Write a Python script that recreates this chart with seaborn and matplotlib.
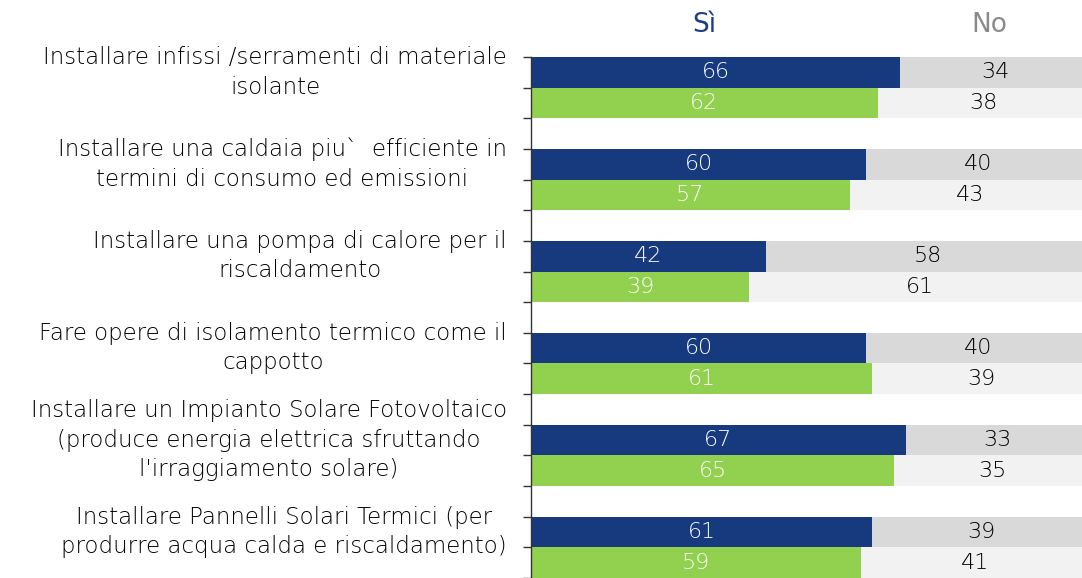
import numpy as np
import pandas as pd
import seaborn as sns
import matplotlib.pyplot as plt

# Data
categories = [
    "Installare infissi /serramenti di materiale\nisolante",
    "Installare una caldaia piu`  efficiente in\ntermini di consumo ed emissioni",
    "Installare una pompa di calore per il\nriscaldamento",
    "Fare opere di isolamento termico come il\ncappotto",
    "Installare un Impianto Solare Fotovoltaico\n(produce energia elettrica sfruttando\nl'irraggiamento solare)",
    "Installare Pannelli Solari Termici (per\nprodurre acqua calda e riscaldamento)",
]
series = ["Serie A", "Serie B"]
si_a = [66, 60, 42, 60, 67, 61]
no_a = [34, 40, 58, 40, 33, 39]
si_b = [62, 57, 39, 61, 65, 59]
no_b = [38, 43, 61, 39, 35, 41]

BLUE = "#173A7F"
GREEN = "#92D050"
GRAY_DARK = "#D9D9D9"
GRAY_LIGHT = "#F2F2F2"

rows = []
for i, cat in enumerate(categories):
    rows.append({"cat": cat, "serie": series[0], "si": si_a[i], "no": no_a[i]})
    rows.append({"cat": cat, "serie": series[1], "si": si_b[i], "no": no_b[i]})
df = pd.DataFrame(rows)
df["tot"] = df["si"] + df["no"]

sns.set_style("white")
plt.rcParams["font.family"] = ["DejaVu Sans"]

fig = plt.figure(figsize=(10.82, 5.78), dpi=100)
ax = fig.add_axes([531 / 1082, 0, 559 / 1082, 521 / 578])

sns.barplot(data=df, y="cat", x="tot", hue="serie", hue_order=series,
            palette=[GRAY_DARK, GRAY_LIGHT], orient="h", width=2 / 3,
            linewidth=0, saturation=1, legend=False, ax=ax, errorbar=None)
sns.barplot(data=df, y="cat", x="si", hue="serie", hue_order=series,
            palette=[BLUE, GREEN], orient="h", width=2 / 3,
            linewidth=0, saturation=1, legend=False, ax=ax, errorbar=None)

ax.set_xlim(0, 100)
ax.set_ylim(len(categories) - 2 / 3, -1 / 3)
ax.set_xlabel("")
ax.set_ylabel("")
ax.set_xticks([])
ax.set_yticks(np.arange(-1 / 3, len(categories) - 0.5, 1 / 3))
ax.set_yticklabels([])
ax.tick_params(axis="y", direction="out", length=6, width=1, color="#333333", left=True)
for s in ["top", "right", "bottom"]:
    ax.spines[s].set_visible(False)
ax.spines["left"].set_color("#333333")
ax.spines["left"].set_linewidth(1)

FS = 16
# value labels
for i in range(len(categories)):
    ya, yb = i - 1 / 6, i + 1 / 6
    ax.text(si_a[i] / 2, ya, str(si_a[i]), color="white", ha="center", va="center", fontsize=FS, fontweight="light")
    ax.text(si_a[i] + no_a[i] / 2, ya, str(no_a[i]), color="black", ha="center", va="center", fontsize=FS, fontweight="light")
    ax.text(si_b[i] / 2, yb, str(si_b[i]), color="white", ha="center", va="center", fontsize=FS, fontweight="light")
    ax.text(si_b[i] + no_b[i] / 2, yb, str(no_b[i]), color="black", ha="center", va="center", fontsize=FS, fontweight="light")
    # category label, centred on the first bar
    ax.text(-0.043, ya, categories[i], transform=ax.get_yaxis_transform(),
            ha="right", va="center", multialignment="center",
            fontsize=16.5, color="black", linespacing=1.36, fontweight="light")

# headers
hdr = ax.get_xaxis_transform()
ax.text(31, 1.0 + 32 / 521, "Sì", transform=hdr, ha="center", va="center",
        fontsize=19, color="#1F3C88")
ax.text(82, 1.0 + 32 / 521, "No", transform=hdr, ha="center", va="center",
        fontsize=19, color="#8A8A8A")

fig.savefig("out.png", dpi=100)
